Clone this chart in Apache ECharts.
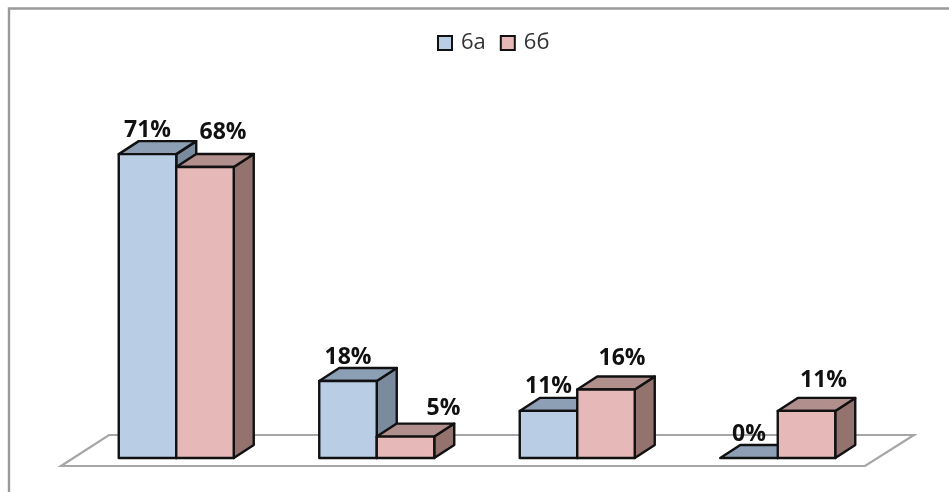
<!DOCTYPE html>
<html>
<head>
<meta charset="utf-8">
<style>html,body{margin:0;padding:0;background:#fff}#c{width:949px;height:492px}</style>
<script src="https://cdn.jsdelivr.net/npm/echarts@6/dist/echarts.min.js"></script>
</head>
<body>
<div id="c"></div>
<script>
const categories = ['A', 'B', 'C', 'D'];
const seriesNames = ['6а', '6б'];
const values6a = [71, 18, 11, 0];
const values6b = [68, 5, 16, 11];

const chart = echarts.init(document.getElementById('c'), null, {renderer: 'canvas'});
const DEPTH_X = 20, DEPTH_Y = -13, BAR_W = 57.5;
const EDGE = '#111';
const styles = [
  {front: '#b9cde5', top: '#8d9fb5', side: '#7b8b9e'},
  {front: '#e6b9b8', top: '#b18f8d', side: '#94736f'}
];
// label displacement from the bar's front-top centre
const labelNudge = [
  [[0, -24], [0, -24], [0, -24], [0, -24]],
  [[18, -35], [38, -28], [16, -31], [17, -30]]
];

function poly(pts, fill) {
  return {type: 'polygon', shape: {points: pts},
    style: {fill: fill, stroke: EDGE, lineWidth: 2.4, lineJoin: 'round'}};
}
function barItem(si) {
  return function (params, api) {
    const i = api.value(0), v = api.value(1);
    const base = api.coord([i, 0]), top = api.coord([i, v]);
    const x0 = base[0] + (si === 0 ? -BAR_W : 0), x1 = x0 + BAR_W;
    const yb = base[1], yt = top[1];
    const s = styles[si];
    const kids = [];
    kids.push(poly([[x1, yb], [x1 + DEPTH_X, yb + DEPTH_Y], [x1 + DEPTH_X, yt + DEPTH_Y], [x1, yt]], s.side));
    kids.push(poly([[x0, yt], [x0 + DEPTH_X, yt + DEPTH_Y], [x1 + DEPTH_X, yt + DEPTH_Y], [x1, yt]], s.top));
    if (v > 0) kids.push(poly([[x0, yb], [x1, yb], [x1, yt], [x0, yt]], s.front));
    const n = labelNudge[si][params.dataIndex];
    kids.push({type: 'text', z2: 10, style: {
      text: v + '%', x: (x0 + x1) / 2 + n[0], y: yt + n[1],
      align: 'center', verticalAlign: 'middle',
      font: 'bold 23px "Open Sans"', fill: '#111'
    }});
    return {type: 'group', children: kids};
  };
}
function floorItem(params, api) {
  const a = api.coord([0, 0]), cs = params.coordSys;
  const front = a[1] + 8, back = a[1] - 23;
  return {type: 'polygon', silent: true, shape: {points: [
    [cs.x - 15, front], [cs.x + cs.width - 13, front],
    [cs.x + cs.width + 36, back], [cs.x + 33, back]
  ]}, style: {fill: '#fff', stroke: '#a6a6a6', lineWidth: 2.2}};
}
function rows(vals) { return vals.map((v, i) => [i, v]); }

chart.setOption({
  animation: false,
  backgroundColor: '#fff',
  graphic: [
    {type: 'polyline', silent: true, shape: {points: [[9, 492], [9, 8.5], [949, 8.5]]},
     style: {fill: null, stroke: '#9a9a9a', lineWidth: 2.4}}
  ],
  legend: {
    data: seriesNames.map(n => ({name: n, icon: 'rect'})),
    left: 432, top: 27, itemWidth: 14, itemHeight: 14, itemGap: 14,
    textStyle: {fontFamily: '"Open Sans"', fontSize: 22, color: '#333', padding: [0, 0, 0, 4]}
  },
  grid: {left: 76, right: 71, top: 20, bottom: 34},
  xAxis: {type: 'category', data: categories, show: false},
  yAxis: {type: 'value', min: 0, max: 438 / 4.28, show: false},
  series: [
    {type: 'custom', name: 'floor', z: 1, silent: true, data: [[0, 0]], renderItem: floorItem,
     legendHoverLink: false},
    {type: 'custom', name: seriesNames[0], z: 2, data: rows(values6a), renderItem: barItem(0),
     encode: {x: 0, y: 1}, itemStyle: {color: styles[0].front, borderColor: EDGE, borderWidth: 2.4}},
    {type: 'custom', name: seriesNames[1], z: 3, data: rows(values6b), renderItem: barItem(1),
     encode: {x: 0, y: 1}, itemStyle: {color: styles[1].front, borderColor: EDGE, borderWidth: 2.4}}
  ]
});
</script>
</body>
</html>
